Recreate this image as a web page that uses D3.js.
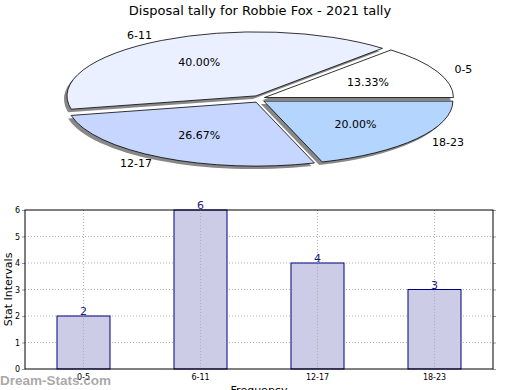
<!DOCTYPE html>
<html>
<head>
<meta charset="utf-8">
<script src="https://cdn.jsdelivr.net/npm/d3@7"></script>
<style>
  body { margin: 0; background: #fff; }
  svg { display: block; font-family: "DejaVu Sans", sans-serif; }
</style>
</head>
<body>
<div id="chart"></div>
<script>

var title = "Disposal tally for Robbie Fox - 2021 tally"
var categories = ["0-5", "6-11", "12-17", "18-23"]
var counts = [2, 6, 4, 3]
var sliceColors = ["#ffffff", "#eaf0ff", "#c6d6fe", "#b4d5fe"]
var yTicks = [0, 1, 2, 3, 4, 5, 6]

var width = 520, height = 390

var svg = d3.select("#chart").append("svg")
    .attr("width", width)
    .attr("height", height)

svg.append("text")
    .attr("x", 260)
    .attr("y", 15)
    .attr("text-anchor", "middle")
    .style("font-size", "13px")
    .text(title)

// ---- pie (squashed ellipse, exploded) ----
var pieCfg = { cx: 259, cy: 99, rx: 189, ry: 64, explode: 6 }
var squash = pieCfg.ry / pieCfg.rx
var total = d3.sum(counts)

var pie = d3.pie().sort(null)
    .startAngle(Math.PI / 2)
    .endAngle(Math.PI / 2 - 2 * Math.PI)

var arc = d3.arc().innerRadius(0).outerRadius(pieCfg.rx)

var slices = pie(counts).map(function(d, i) {
    var mid = (d.startAngle + d.endAngle) / 2
    d.mid = mid
    d.dx = pieCfg.explode * Math.sin(mid)
    d.dy = -pieCfg.explode * Math.cos(mid) * 0.6
    d.name = categories[i]
    return d
})

var defs = svg.append("defs")
defs.append("filter").attr("id", "blur")
    .append("feGaussianBlur").attr("stdDeviation", 0.6)

var pieG = svg.append("g")

function sliceTransform(d, sx, sy) {
    return "translate(" + (pieCfg.cx + d.dx + sx) + "," + (pieCfg.cy + d.dy + sy) + ")scale(1," + squash + ")"
}

// shadow
pieG.selectAll(".shadow")
    .data(slices)
    .enter().append("path")
    .attr("class", "shadow")
    .attr("d", arc)
    .attr("transform", function(d) { return sliceTransform(d, -3, 3) })
    .style("fill", "#888")
    .attr("filter", "url(#blur)")

pieG.selectAll(".slice")
    .data(slices)
    .enter().append("path")
    .attr("class", "slice")
    .attr("d", arc)
    .attr("transform", function(d) { return sliceTransform(d, 0, 0) })
    .style("fill", function(d, i) { return sliceColors[i] })
    .style("stroke", "#000")
    .style("stroke-width", 0.8)
    .attr("vector-effect", "non-scaling-stroke")

// outer labels
pieG.selectAll(".plabel")
    .data(slices)
    .enter().append("text")
    .attr("class", "plabel")
    .attr("x", function(d) { return pieCfg.cx + d.dx + 1.1 * pieCfg.rx * Math.sin(d.mid) })
    .attr("y", function(d) { return pieCfg.cy + d.dy - 1.1 * pieCfg.ry * Math.cos(d.mid) })
    .attr("dy", "0.35em")
    .attr("text-anchor", function(d) { return Math.sin(d.mid) > 0 ? "start" : "end" })
    .style("font-size", "11px")
    .text(function(d) { return d.name })

// percent labels
pieG.selectAll(".pct")
    .data(slices)
    .enter().append("text")
    .attr("class", "pct")
    .attr("x", function(d) { return pieCfg.cx + d.dx + 0.6 * pieCfg.rx * Math.sin(d.mid) })
    .attr("y", function(d) { return pieCfg.cy + d.dy - 0.6 * pieCfg.ry * Math.cos(d.mid) })
    .attr("dy", "0.35em")
    .attr("text-anchor", "middle")
    .style("font-size", "11px")
    .text(function(d) { return (100 * d.value / total).toFixed(2) + "%" })

// ---- bar chart ----
var plot = { left: 25, right: 493, top: 210, bottom: 369 }

var x = d3.scaleBand()
    .domain(categories)
    .range([plot.left, plot.right])
    .paddingInner(0.547)
    .paddingOuter(0.2735)

var y = d3.scaleLinear()
    .domain([0, 6])
    .range([plot.bottom, plot.top])

var grid = svg.append("g")
grid.selectAll(".hgrid")
    .data(yTicks.slice(1, -1))
    .enter().append("line")
    .attr("x1", plot.left).attr("x2", plot.right)
    .attr("y1", function(d) { return y(d) }).attr("y2", function(d) { return y(d) })
    .style("stroke", "#b0b0b0")
    .style("stroke-dasharray", "1,2")

svg.selectAll(".bar")
    .data(counts)
    .enter().append("rect")
    .attr("class", "bar")
    .attr("x", function(d, i) { return x(categories[i]) })
    .attr("y", function(d) { return y(d) })
    .attr("width", x.bandwidth())
    .attr("height", function(d) { return y(0) - y(d) })
    .style("fill", "#cccce6")
    .style("stroke", "#000080")
    .style("stroke-width", 1)

svg.selectAll(".vgrid")
    .data(categories)
    .enter().append("line")
    .attr("class", "vgrid")
    .attr("x1", function(d) { return x(d) + x.bandwidth() / 2 })
    .attr("x2", function(d) { return x(d) + x.bandwidth() / 2 })
    .attr("y1", plot.top).attr("y2", plot.bottom)
    .style("stroke", "#b0b0b0")
    .style("stroke-dasharray", "1,2")

svg.selectAll(".val")
    .data(counts)
    .enter().append("text")
    .attr("class", "val")
    .attr("x", function(d, i) { return x(categories[i]) + x.bandwidth() / 2 })
    .attr("y", function(d) { return y(d) - 1 })
    .attr("text-anchor", "middle")
    .style("font-size", "11px")
    .style("fill", "#1a1a80")
    .text(function(d) { return d })

// axes
var yAxis = svg.append("g")
    .attr("transform", "translate(" + plot.left + ",0)")
    .call(d3.axisLeft(y).tickValues(yTicks).tickFormat(d3.format("d")).tickSize(3).tickPadding(2))
var yAxisR = svg.append("g")
    .attr("transform", "translate(" + plot.right + ",0)")
    .call(d3.axisRight(y).tickValues(yTicks).tickFormat("").tickSize(3))
var xAxis = svg.append("g")
    .attr("transform", "translate(0," + plot.bottom + ")")
    .call(d3.axisBottom(x).tickSize(0).tickPadding(5))

;[yAxis, yAxisR, xAxis].forEach(function(a) {
    a.select(".domain").remove()
    a.selectAll(".tick line").style("stroke", "#999")
    a.selectAll("text").style("font-family", "DejaVu Sans").style("font-size", "8px").style("fill", "#000")
})

svg.append("rect")
    .attr("x", plot.left).attr("y", plot.top)
    .attr("width", plot.right - plot.left).attr("height", plot.bottom - plot.top)
    .style("fill", "none")
    .style("stroke", "#000")
    .style("stroke-width", 1)

svg.append("text")
    .attr("transform", "translate(12," + ((plot.top + plot.bottom) / 2) + ")rotate(-90)")
    .attr("text-anchor", "middle")
    .style("font-size", "11px")
    .text("Stat Intervals")

svg.append("text")
    .attr("x", (plot.left + plot.right) / 2)
    .attr("y", 394)
    .attr("text-anchor", "middle")
    .style("font-size", "11px")
    .text("Frequency")

svg.append("text")
    .attr("x", 0)
    .attr("y", 385)
    .style("font-family", "Liberation Sans")
    .style("font-size", "13.5px")
    .style("font-weight", "bold")
    .style("fill", "#999")
    .style("fill-opacity", 0.85)
    .text("Dream-Stats.com")

</script>
</body>
</html>
